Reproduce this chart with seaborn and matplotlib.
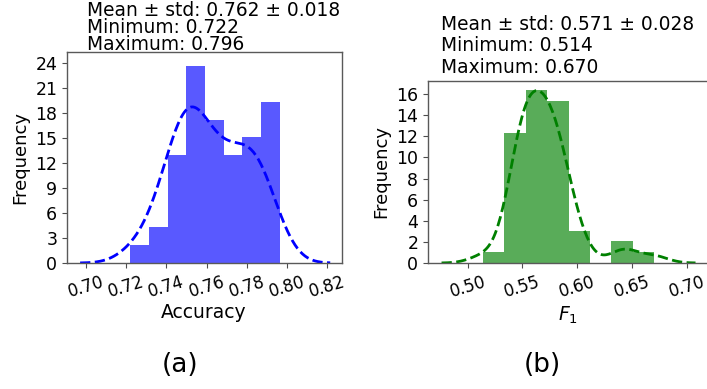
import numpy as np
import seaborn as sns
import matplotlib.pyplot as plt

# accuracy takes only a few distinct values (k/108); how many runs hit each one
acc_levels = [0.72222, 0.73148, 0.74074, 0.75000, 0.75926, 0.76852, 0.77778, 0.78704, 0.79630]
acc_counts = [1, 2, 6, 11, 8, 6, 7, 7, 2]

# per-run F1 scores, estimated from the histogram bins (50 runs)
f1 = [0.514,
      0.537, 0.540, 0.542, 0.544, 0.545, 0.546, 0.547, 0.548, 0.549, 0.550, 0.551, 0.552,
      0.554, 0.555, 0.556, 0.557, 0.558, 0.559, 0.560, 0.561, 0.562, 0.563, 0.564, 0.566,
      0.567, 0.568, 0.570, 0.571,
      0.573, 0.574, 0.575, 0.576, 0.577, 0.578, 0.579, 0.580, 0.581, 0.583, 0.584, 0.585,
      0.587, 0.589, 0.591,
      0.594, 0.598, 0.603,
      0.640, 0.645,
      0.670]

acc_stats = ["Mean \u00b1 std: 0.762 \u00b1 0.018", "Minimum: 0.722", "Maximum: 0.796"]
f1_stats = ["Mean \u00b1 std: 0.571 \u00b1 0.028", "Minimum: 0.514", "Maximum: 0.670"]
acc_xticks = [0.70, 0.72, 0.74, 0.76, 0.78, 0.80, 0.82]
f1_xticks = [0.50, 0.55, 0.60, 0.65, 0.70]
acc_yticks = list(range(0, 25, 3))
f1_yticks = list(range(0, 17, 2))

accuracy = np.repeat(acc_levels, acc_counts)

sns.set_style("ticks")
plt.rcParams['font.family'] = ['DejaVu Sans']
plt.rcParams['text.color'] = 'black'
plt.rcParams['axes.labelcolor'] = 'black'
plt.rcParams['axes.edgecolor'] = '0.35'
plt.rcParams['xtick.color'] = '0.3'
plt.rcParams['ytick.color'] = '0.3'
plt.rcParams['xtick.labelcolor'] = 'black'
plt.rcParams['ytick.labelcolor'] = 'black'

fig = plt.figure(figsize=(7.07, 3.89), dpi=100)
ax1 = fig.add_axes([0.0948, 0.3239, 0.389, 0.5424])
ax2 = fig.add_axes([0.6054, 0.3239, 0.3975, 0.4679])

# binrange nudged so values sitting on bin edges land in the bin to their right
panels = [
    (ax1, accuracy, 'b', (0.72192, 0.79632), acc_xticks, acc_yticks, (0.6905, 0.8274), (0, 25.3)),
    (ax2, f1, 'g', None, f1_xticks, f1_yticks, (0.464, 0.720), (0, 17.25)),
]
for ax, vals, col, brange, xt, yt, xl, yl in panels:
    sns.histplot(x=vals, bins=8, binrange=brange, stat='density', color=col,
                 alpha=0.65, linewidth=0, ax=ax)
    sns.kdeplot(x=vals, color=col, linestyle='--', linewidth=2, ax=ax)
    ax.set_xticks(xt)
    ax.set_xticklabels([f"{t:.2f}" for t in xt], rotation=17)
    ax.set_yticks(yt)
    ax.set_xlim(*xl)
    ax.set_ylim(*yl)
    ax.tick_params(axis='x', labelsize=12)
    ax.tick_params(axis='y', labelsize=12.5)
    ax.tick_params(width=0.8, length=3.5)
    ax.set_ylabel("Frequency", fontsize=13)
    ax.set_xlabel("")
    for s in ax.spines.values():
        s.set_linewidth(1.0)

# summary stats above each panel
for i, line in enumerate(acc_stats):
    fig.text(87 / 707, 1 - (16 + 16.8 * i) / 389, line, fontsize=13.4, ha='left', va='baseline')
for i, line in enumerate(f1_stats):
    fig.text(441 / 707, 1 - (30 + 21.4 * i) / 389, line, fontsize=13.4, ha='left', va='baseline')

fig.text(204 / 707, 1 - 313 / 389, "Accuracy", fontsize=13.5, ha='center', va='center')
fig.text(568 / 707, 1 - 315 / 389, "$F_1$", fontsize=13.5, ha='center', va='center')
fig.text(180 / 707, 1 - 365 / 389, "(a)", fontsize=19, ha='center', va='center')
fig.text(542 / 707, 1 - 365 / 389, "(b)", fontsize=19, ha='center', va='center')

fig.savefig("out.png", dpi=100)
